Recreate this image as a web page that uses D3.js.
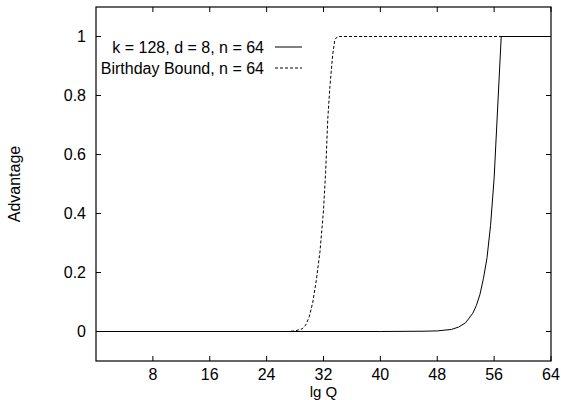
<!DOCTYPE html>
<html>
<head>
<meta charset="utf-8">
<script src="https://d3js.org/d3.v7.min.js"></script>
<style>
  body { margin: 0; background: #fff; }
  text { font-family: "Liberation Sans", Arial, sans-serif; font-size: 16px; fill: #000; }
</style>
</head>
<body>
<div id="chart"></div>
<script>
// lg Q vs advantage
var solidX = [0, 40, 46, 48, 50, 51, 52, 53, 53.5, 54, 54.5, 55, 55.5, 56, 57, 64];
var solidY = [0, 0, 0.001, 0.002, 0.007, 0.015, 0.03, 0.062, 0.088, 0.125, 0.18, 0.25, 0.36, 0.52, 1, 1];
var bdayX = [0, 27, 28, 29, 29.5, 30, 30.5, 31, 31.5, 32, 32.3, 32.6, 32.9, 33.3, 33.6, 34, 64];
var bdayY = [0, 0, 0.002, 0.009, 0.022, 0.05, 0.1, 0.176, 0.27, 0.41, 0.54, 0.72, 0.83, 0.94, 0.99, 1, 1];
var xTicks = [8, 16, 24, 32, 40, 48, 56, 64];
var yTicks = [0, 0.2, 0.4, 0.6, 0.8, 1];
var legendLabels = ["k = 128, d = 8, n = 64", "Birthday Bound, n = 64"];

var W = 561, H = 400;
var m = { left: 96, right: 10, top: 7, bottom: 39 };

var svg = d3.select("#chart").append("svg")
  .attr("width", W).attr("height", H);

var x = d3.scaleLinear().domain([0, 64]).range([m.left, W - m.right]);
var y = d3.scaleLinear().domain([-0.1, 1.1]).range([H - m.bottom, m.top]);

// ticks, inward on all four sides
var g = svg.append("g");
xTicks.forEach(function (t) {
  g.append("line").attr("x1", x(t)).attr("x2", x(t))
    .attr("y1", y(-0.1)).attr("y2", y(-0.1) - 5).attr("stroke", "#000");
  g.append("line").attr("x1", x(t)).attr("x2", x(t))
    .attr("y1", y(1.1)).attr("y2", y(1.1) + 5).attr("stroke", "#000");
  g.append("text").attr("x", x(t)).attr("y", y(-0.1) + 19)
    .attr("text-anchor", "middle").text(t);
});
yTicks.forEach(function (t) {
  g.append("line").attr("x1", x(0)).attr("x2", x(0) + 5)
    .attr("y1", y(t)).attr("y2", y(t)).attr("stroke", "#000");
  g.append("line").attr("x1", x(64)).attr("x2", x(64) - 5)
    .attr("y1", y(t)).attr("y2", y(t)).attr("stroke", "#000");
  g.append("text").attr("x", x(0) - 10).attr("y", y(t)).attr("dy", "0.35em")
    .attr("text-anchor", "end").text(t);
});

var line = d3.line().x(function (d) { return x(d[0]); }).y(function (d) { return y(d[1]); });

svg.append("path")
  .datum(d3.zip(solidX, solidY))
  .attr("d", line).attr("fill", "none").attr("stroke", "#000").attr("stroke-width", 1);

svg.append("path")
  .datum(d3.zip(bdayX, bdayY))
  .attr("d", line).attr("fill", "none").attr("stroke", "#000").attr("stroke-width", 1)
  .attr("stroke-dasharray", "3,2");

// border
svg.append("rect")
  .attr("x", x(0)).attr("y", y(1.1))
  .attr("width", x(64) - x(0)).attr("height", y(-0.1) - y(1.1))
  .attr("fill", "none").attr("stroke", "#000").attr("stroke-width", 1.2);

// key
legendLabels.forEach(function (lab, i) {
  var ly = 47 + i * 21;
  svg.append("text").attr("x", 264).attr("y", ly).attr("dy", "0.35em")
    .attr("text-anchor", "end").text(lab);
  svg.append("line").attr("x1", 275).attr("x2", 302)
    .attr("y1", ly).attr("y2", ly).attr("stroke", "#000")
    .attr("stroke-dasharray", i === 1 ? "3,2" : null);
});

// axis titles
svg.append("text").attr("x", (x(0) + x(64)) / 2).attr("y", 397)
  .attr("text-anchor", "middle").style("font-size", "15px").text("lg Q");
svg.append("text")
  .attr("transform", "translate(20," + y(0.5) + ") rotate(-90)")
  .attr("text-anchor", "middle").text("Advantage");
</script>
</body>
</html>
